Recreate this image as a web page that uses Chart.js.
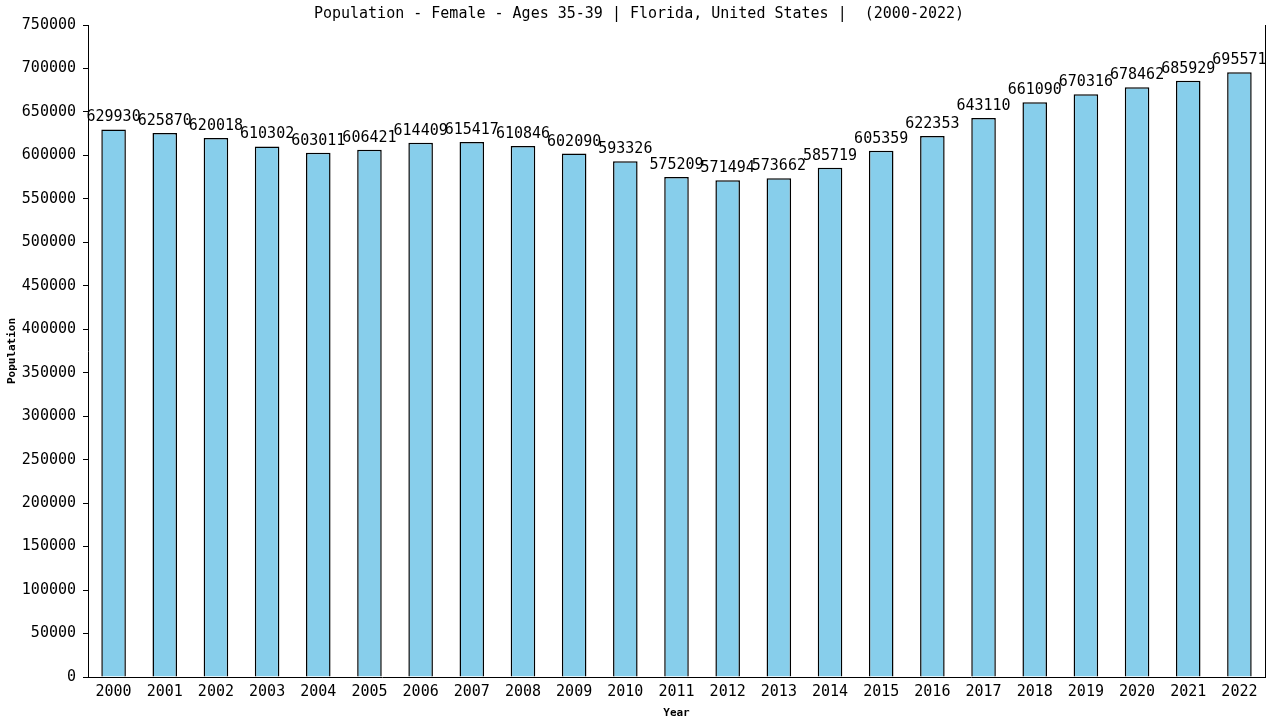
<!DOCTYPE html>
<html>
<head>
<meta charset="utf-8">
<script src="https://cdn.jsdelivr.net/npm/chart.js@4/dist/chart.umd.min.js"></script>
<style>
    html, body { margin: 0; padding: 0; background: #fff; }
    #wrap { width: 1280px; height: 720px; position: relative; }
</style>
</head>
<body>
<div id="wrap"><canvas id="chart" width="1280" height="720"></canvas></div>
<script>
// Dados
const years = ['2000', '2001', '2002', '2003', '2004', '2005', '2006', '2007', '2008', '2009', '2010', '2011',
    '2012', '2013', '2014', '2015', '2016', '2017', '2018', '2019', '2020', '2021', '2022'];
const population = [629930, 625870, 620018, 610302, 603011, 606421, 614409, 615417, 610846, 602090, 593326, 575209,
    571494, 573662, 585719, 605359, 622353, 643110, 661090, 670316, 678462, 685929, 695571];
const yTicks = [0, 50000, 100000, 150000, 200000, 250000, 300000, 350000, 400000, 450000, 500000, 550000,
    600000, 650000, 700000, 750000];

const chartTitle = 'Population - Female - Ages 35-39 | Florida, United States |  (2000-2022)';
const FONT = "'DejaVu Sans Mono', monospace";

// Plugin: título, moldura direita e rótulos de valores
const decorPlugin = {
    id: 'decor',
    afterDraw(chart) {
        const ctx = chart.ctx;
        const area = chart.chartArea;
        ctx.save();
        ctx.fillStyle = '#000';
        ctx.font = '15px ' + FONT;
        ctx.textAlign = 'center';
        ctx.textBaseline = 'middle';
        ctx.fillText(chartTitle, 639, 14);

        ctx.strokeStyle = '#000';
        ctx.lineWidth = 1;
        ctx.beginPath();
        ctx.moveTo(Math.round(area.right) + 0.5, area.top);
        ctx.lineTo(Math.round(area.right) + 0.5, area.bottom);
        ctx.stroke();

        const meta = chart.getDatasetMeta(0);
        ctx.textBaseline = 'alphabetic';
        meta.data.forEach((bar, i) => {
            ctx.fillText(String(population[i]), bar.x, bar.y - 8);
        });
        ctx.restore();
    }
};

const chart = new Chart(document.getElementById('chart'), {
    type: 'bar',
    data: {
        labels: years,
        datasets: [{
            data: population,
            backgroundColor: '#87ceeb',
            borderColor: '#000',
            borderWidth: 1.5,
            borderSkipped: 'bottom',
            barPercentage: 0.96,
            categoryPercentage: 0.5
        }]
    },
    options: {
        responsive: false,
        animation: false,
        devicePixelRatio: 1,
        layout: { padding: { top: 25, right: 15, left: 0, bottom: 0 } },
        plugins: {
            legend: { display: false },
            tooltip: { enabled: false },
            title: { display: false }
        },
        scales: {
            x: {
                grid: { display: false, drawTicks: false },
                border: { display: true, color: '#000', width: 1 },
                ticks: {
                    color: '#000',
                    font: { family: FONT, size: 15 },
                    padding: 6,
                    maxRotation: 0,
                    autoSkip: false
                },
                title: {
                    display: true,
                    text: 'Year',
                    color: '#000',
                    font: { family: FONT, size: 11, weight: 'bold' },
                    padding: { top: 2, bottom: 0 }
                },
                afterFit(scale) { scale.height = 43; }
            },
            y: {
                min: 0,
                max: 750000,
                afterBuildTicks(scale) {
                    scale.ticks = yTicks.map(v => ({ value: v }));
                },
                grid: {
                    drawOnChartArea: false,
                    drawTicks: true,
                    tickLength: 5,
                    color: '#000'
                },
                border: { display: true, color: '#000', width: 1 },
                ticks: {
                    color: '#000',
                    font: { family: FONT, size: 15 },
                    padding: 7,
                    callback: (value) => String(value)
                },
                title: {
                    display: true,
                    text: 'Population',
                    color: '#000',
                    font: { family: FONT, size: 11, weight: 'bold' },
                    padding: { top: 6, bottom: 0 }
                },
                afterFit(scale) { scale.width = 88; }
            }
        }
    },
    plugins: [decorPlugin]
});
</script>
</body>
</html>
